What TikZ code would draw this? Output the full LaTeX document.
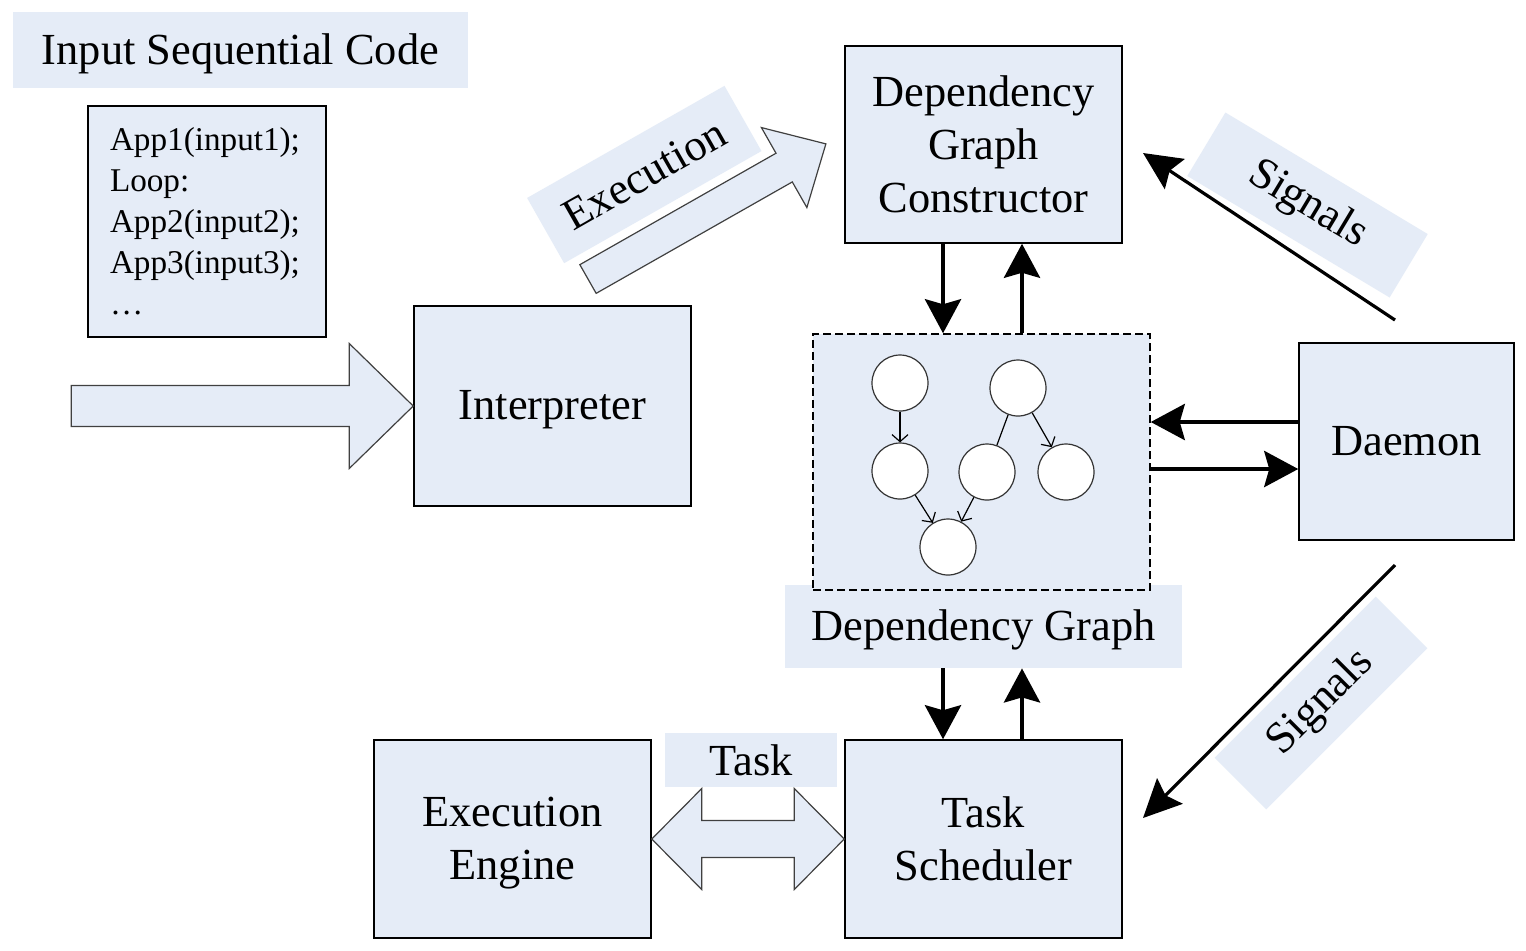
\documentclass[tikz,border=0pt]{standalone}
\usepackage{fontspec}
\setmainfont{Liberation Serif}
\usetikzlibrary{arrows.meta,calc}
\definecolor{lb}{RGB}{229,236,247}
\begin{document}
\begin{tikzpicture}[x=0.5pt,y=-0.5pt,
  box/.style={draw=black, fill=lb, line width=0.75pt, inner sep=0pt, align=center, font=\fontsize{22.2}{26.5}\selectfont},
  lbl/.style={fill=lb, inner sep=0pt, align=center, font=\fontsize{22.2}{26.5}\selectfont},
  blockarrow/.style={draw=black!75, fill=lb, line width=0.6pt, line join=miter},
  bigarrow/.style={line width=2.2pt, -{Stealth[length=17pt,width=18pt,inset=2.5pt]}},
  sigarrow/.style={line width=1.6pt, -{Stealth[length=19pt,width=18pt,inset=3pt]}},
  gnode/.style={circle, draw=black!80, fill=white, line width=0.6pt, minimum size=28pt, inner sep=0pt},
  garrow/.style={line width=0.6pt, -{Straight Barb[length=3.5pt,width=8pt]}},
  gline/.style={line width=0.6pt},
]
\path[use as bounding box, fill=white] (0,0) rectangle (1526,950);

% labels
\node[lbl, text depth=1pt, minimum width=227.5pt, minimum height=38pt] (inlbl) at (240.5,50) {Input Sequential Code};
\node[box, minimum width=119pt, minimum height=115.5pt, text width=97pt, align=left, inner xsep=11pt,
      font=\fontsize{16.6}{20.5}\selectfont] (code) at (207,221.5)
      {App1(input1);\\Loop:\\App2(input2);\\App3(input3);\\…};

% main boxes
\node[box, text depth=1pt, minimum width=138.5pt, minimum height=100pt] (interp) at (552.5,406) {Interpreter};
\node[box, minimum width=138.5pt, minimum height=98.5pt] (dgc) at (983.5,144.5) {Dependency\\Graph\\Constructor};
\node[lbl, text depth=1pt, minimum width=198.5pt, minimum height=41.5pt] (dglbl) at (983.5,626.5) {Dependency Graph};
\node[box, dash pattern=on 4pt off 2pt, minimum width=168.5pt, minimum height=128pt] (graph) at (981.5,462) {};
\node[box, minimum width=107.5pt, minimum height=98.5pt] (daemon) at (1406.5,441.5) {Daemon};
\node[box, minimum width=138.5pt, minimum height=99pt] (ts) at (983.5,839) {Task\\Scheduler};
\node[box, text depth=1pt, minimum width=138.5pt, minimum height=99pt] (ee) at (512.5,839) {Execution\\Engine};
\node[lbl, minimum width=86pt, minimum height=27pt] (tasklbl) at (751,760) {Task};

% rotated labels
\node[lbl, rotate=29.6, minimum width=113.5pt, minimum height=37.5pt] (exlbl) at (644.3,174.5) {Execution};
\node[lbl, rotate=-31, minimum width=118pt, minimum height=37pt] (sig1lbl) at (1307.5,205) {Signals};
\node[lbl, rotate=45, minimum width=114pt, minimum height=36.5pt] (sig2lbl) at (1321,703) {Signals};

% graph nodes
\node[gnode] (n1) at (900,383) {};
\node[gnode] (n2) at (1018,388) {};
\node[gnode] (n3) at (900,471) {};
\node[gnode] (n4) at (987,472) {};
\node[gnode] (n5) at (1066,472) {};
\node[gnode] (n6) at (948,547) {};
\draw[garrow] (n1) -- (n3);
\draw[gline] (n2) -- (n4);
\draw[garrow] (n2) -- (n5);
\draw[garrow] (n3) -- (n6);
\draw[garrow] (n4) -- (n6);

% input block arrow
\draw[blockarrow] (interp.west) -- ++(-64,-62.5) -- ++(0,42) -- ++(-278,0) -- ++(0,41)
  -- ++(278,0) -- ++(0,42) -- cycle;

% execution block arrow
\coordinate (extail) at (588,279);
\begin{scope}[shift={(extail)}, rotate=29.6]
  \draw[blockarrow] (0,-16.5) -- (225.6,-16.5) -- (225.6,-46) -- (273.6,0)
    -- (225.6,46) -- (225.6,16.5) -- (0,16.5) -- cycle;
\end{scope}

% task double arrow
\draw[blockarrow] (ee.east) -- ++(50,-50.5) -- ++(0,32) -- ($(ts.west)+(-50,-18.5)$) -- ++(0,-32)
  -- (ts.west) -- ++(-50,50.5) -- ++(0,-32) -- ($(ee.east)+(50,18.5)$) -- ++(0,32) -- cycle;

% thick arrows
\coordinate (xl) at (943,0);
\coordinate (xr) at (1022,0);
\coordinate (ya) at (0,422);
\coordinate (yb) at (0,469);
\draw[bigarrow] (dgc.south -| xl) -- (graph.north -| xl);
\draw[bigarrow] (graph.north -| xr) -- (dgc.south -| xr);
\draw[bigarrow] (dglbl.south -| xl) -- (ts.north -| xl);
\draw[bigarrow] (ts.north -| xr) -- (dglbl.south -| xr);
\draw[bigarrow] (daemon.west |- ya) -- (graph.east |- ya);
\draw[bigarrow] (graph.east |- yb) -- (daemon.west |- yb);

% signal arrows
\coordinate (s1a) at (1395,320);
\coordinate (s1b) at (1143,153);
\coordinate (s2a) at (1395,565);
\coordinate (s2b) at (1143,818);
\draw[sigarrow] (s1a) -- (s1b);
\draw[sigarrow] (s2a) -- (s2b);
\end{tikzpicture}
\end{document}
